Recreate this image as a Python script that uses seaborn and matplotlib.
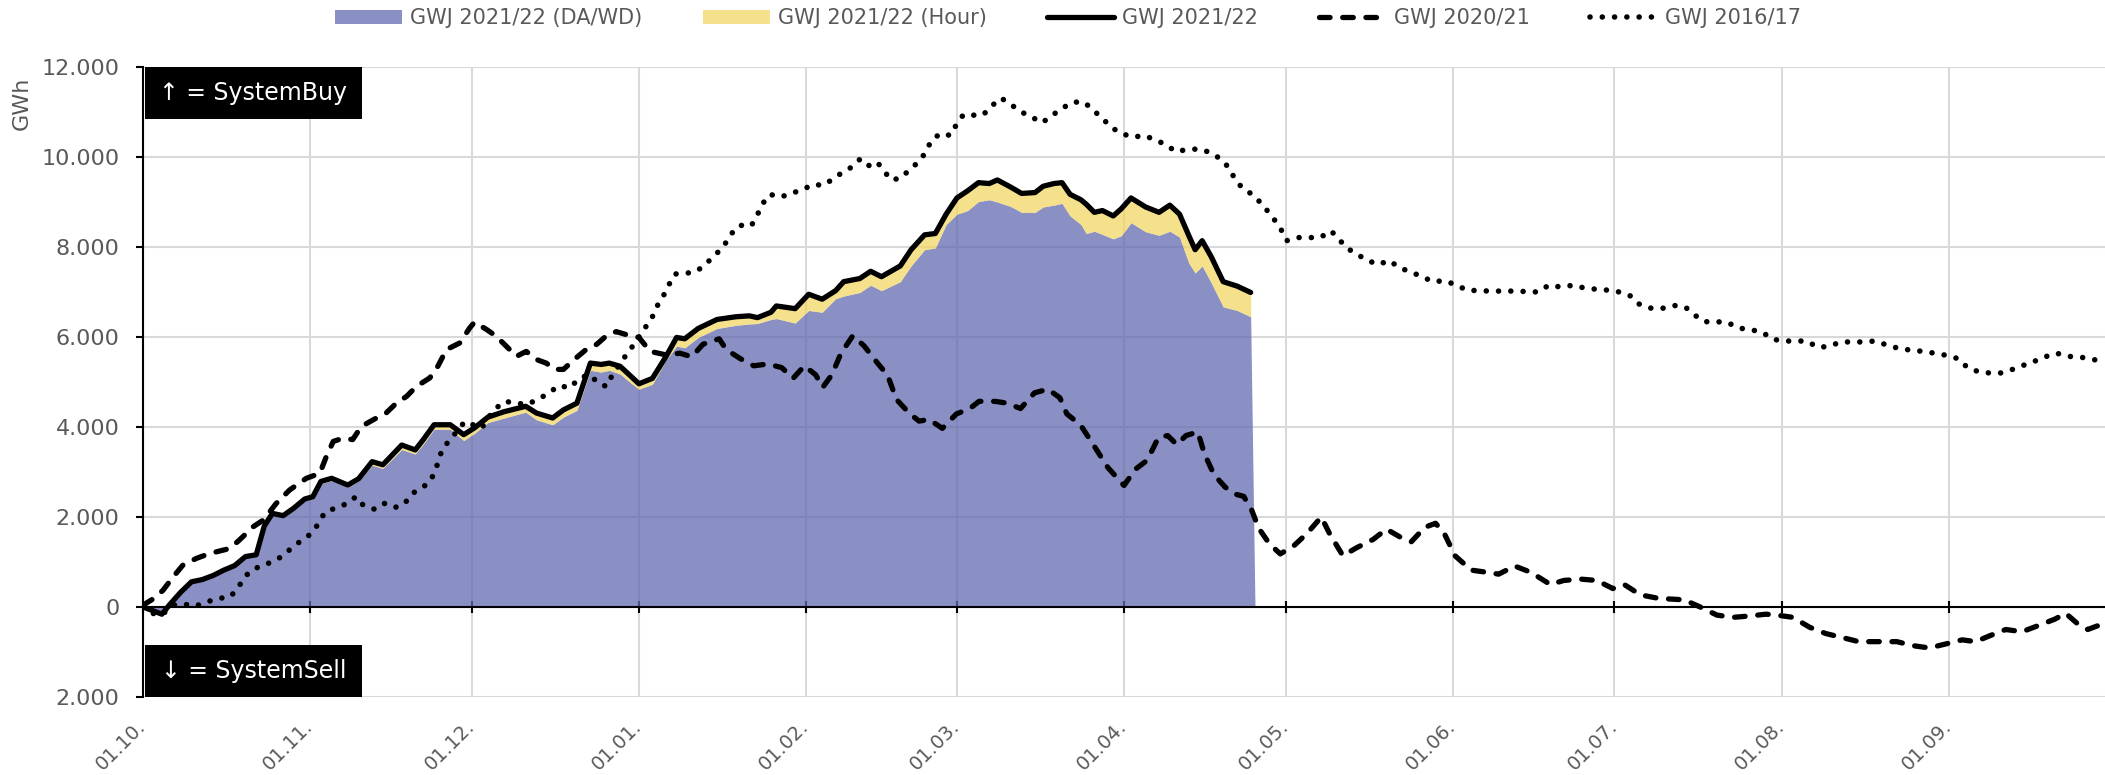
import matplotlib
matplotlib.use('Agg')
import matplotlib.pyplot as plt
import numpy as np
import pandas as pd
import seaborn as sns
from matplotlib.patches import Patch, Rectangle
from matplotlib.lines import Line2D
from matplotlib.ticker import FuncFormatter, MultipleLocator

# Gas year starts 01.10. - all series are plotted on the same day axis
start = pd.Timestamp('2021-10-01')

# GWJ 2021/22 (days since 01.10., total balance and DA/WD part, GWh)
days_2122 = [0, 2, 3.5, 5, 7, 9, 11, 13, 15, 17, 19, 21, 22.5, 24, 26, 28, 30, 31.5, 33, 35,
             38, 40, 42.5, 44.5, 48, 50.5, 52, 54, 57, 59.5, 61.5, 64, 67, 71, 73, 76, 78, 80.5,
             83, 85, 86.5, 88.5, 90.5, 92, 94.5, 97, 99, 100.5, 103, 106.5, 110, 112.5, 114,
             116.5, 117.5, 121, 123.5, 126, 128.5, 130, 133, 135, 137, 140.5, 142.5, 145, 147,
             149, 151, 153, 155, 157, 158.5, 161, 163, 165.5, 167, 169, 170.5, 172, 174, 175,
             176.5, 178, 180, 181.5, 183.3, 186, 188.5, 190.5, 192.3, 194, 195.2, 196.5, 198.2,
             200.4, 203, 205.5, 206.3]
total_2122 = [0, -90, -160, 60, 330, 560, 610, 700, 820, 920, 1120, 1160, 1800, 2080, 2030, 2200,
              2400, 2450, 2790, 2860, 2710, 2850, 3230, 3160, 3600, 3490, 3720, 4050, 4050, 3830,
              3980, 4220, 4340, 4460, 4310, 4200, 4380, 4530, 5420, 5390, 5420, 5350, 5130, 4960,
              5080, 5560, 5990, 5960, 6190, 6390, 6450, 6470, 6430, 6550, 6690, 6630, 6950, 6840,
              7030, 7230, 7300, 7460, 7340, 7580, 7940, 8270, 8300, 8730, 9090, 9250, 9430, 9410,
              9490, 9330, 9190, 9210, 9350, 9410, 9430, 9170, 9050, 8950, 8770, 8810, 8690, 8850,
              9090, 8890, 8770, 8930, 8730, 8260, 7940, 8140, 7780, 7230, 7130, 6990, np.nan]
da_2122 = [0, -80, -130, 50, 320, 550, 600, 680, 800, 900, 1100, 1140, 1780, 2050, 2000, 2160,
           2360, 2410, 2740, 2810, 2660, 2800, 3150, 3080, 3500, 3400, 3620, 3950, 3950, 3700,
           3860, 4100, 4200, 4330, 4160, 4050, 4220, 4370, 5260, 5220, 5260, 5180, 4980, 4840,
           4950, 5480, 5800, 5760, 5990, 6190, 6260, 6290, 6300, 6390, 6410, 6310, 6590, 6550,
           6850, 6910, 6990, 7150, 7030, 7230, 7580, 7940, 7980, 8500, 8730, 8810, 9010, 9050,
           9000, 8900, 8770, 8770, 8890, 8930, 8970, 8690, 8500, 8300, 8350, 8280, 8180, 8250,
           8540, 8340, 8260, 8350, 8220, 7650, 7420, 7580, 7200, 6670, 6590, 6450, 0]

# GWJ 2020/21
days_2021 = [0, 2, 3.7, 5.6, 7.4, 9.9, 12.4, 14.8, 16.1, 17.9, 20.4, 22.3, 24.7, 27.2, 30.3,
             32.8, 34, 35.3, 37.1, 38.9, 40.5, 42.7, 45.1, 47, 48.9, 50.7, 53.2, 54.7, 56.3,
             58.8, 60.6, 61.5, 63.7, 65.5, 67.1, 69.3, 71.1, 73, 74.8, 76.4, 78, 80, 82, 84.2,
             86, 87.8, 90.3, 92, 94.1, 97.1, 99.6, 101.8, 103.9, 106.9, 108.2, 110.8, 113.3,
             115.9, 118.5, 120.6, 122.7, 124.8, 126.1, 127.8, 129.5, 131.7, 133.8, 136.4, 138.1,
             139.8, 142.3, 144, 145.8, 148.3, 150.9, 153.4, 155.1, 158.1, 160.3, 162.8, 165.4,
             167.9, 170.1, 171.4, 173.9, 176.5, 179, 182, 184.1, 186.3, 188.4, 190.1, 191.8,
             193.5, 195.7, 196.9, 198.7, 200.8, 202.9, 204.2, 205.7, 207, 209, 211, 213.5, 216,
             218.6, 220.1, 222.6, 225.2, 228.2, 230.7, 233.3, 235.3, 237.8, 239.8, 241.4, 243.4,
             246.4, 249.4, 251.5, 254.5, 257.5, 261.1, 263.6, 266.7, 269.7, 272.7, 274.8, 277.8,
             280.8, 282.9, 285.9, 288.9, 292, 295, 298, 301.1, 303.1, 306.1, 309.2, 312.2, 315.3,
             318.3, 321.3, 325.4, 328.4, 331.4, 334.5, 337.5, 340, 342.6, 345.6, 348.6, 351.7,
             354.7, 356.7, 358.8, 360.8, 362.8, 364.5]
vals_2021 = [40, 190, 370, 670, 930, 1080, 1190, 1260, 1300, 1490, 1780, 1930, 2300, 2600, 2860,
             2970, 3340, 3680, 3750, 3720, 4010, 4160, 4310, 4530, 4680, 4900, 5090, 5350, 5720,
             5870, 6200, 6330, 6170, 6020, 5830, 5570, 5680, 5500, 5420, 5280, 5280, 5500, 5700,
             5840, 6030, 6120, 6030, 5990, 5680, 5600, 5640, 5560, 5840, 5960, 5720, 5520, 5360,
             5400, 5320, 5080, 5360, 5160, 4880, 5160, 5640, 6030, 5800, 5400, 5160, 4610, 4290,
             4130, 4170, 3970, 4290, 4410, 4570, 4570, 4530, 4410, 4760, 4840, 4650, 4290, 4050,
             3570, 3100, 2700, 3060, 3260, 3770, 3810, 3610, 3810, 3890, 3410, 2940, 2660, 2500,
             2460, 2150, 1750, 1400, 1180, 1360, 1640, 2000, 1640, 1140, 1320, 1500, 1730, 1550,
             1450, 1770, 1860, 1640, 1140, 820, 770, 730, 910, 770, 500, 590, 620, 590, 410, 500,
             270, 200, 180, 160, 0, -180, -230, -200, -160, -180, -230, -450, -590, -680, -770,
             -770, -770, -860, -910, -820, -730, -770, -640, -500, -550, -410, -270, -140, -360,
             -500, -410, -200]

# GWJ 2016/17
days_1617 = [0, 2, 3.5, 5.6, 7.4, 9.6, 11.8, 13.9, 16.1, 17.6, 18.6, 20.1, 22.3, 24.4, 26.3,
             27.8, 29.7, 31.2, 32.6, 33.7, 35.9, 37.7, 39.5, 40.8, 43, 44.8, 46.7, 48.5, 49.8,
             51.3, 53.1, 54.1, 54.9, 55.5, 57, 59.7, 61.2, 62.8, 65, 67.1, 69.3, 71.1, 73.3,
             75.3, 77.2, 79.2, 81, 82.9, 84.5, 86, 87, 89.4, 91.1, 93.3, 94.6, 95.4, 96.7, 97.7,
             98.7, 101, 102.7, 104.4, 106.1, 107.5, 109.9, 111.6, 112.9, 114, 115, 116.3, 118.3,
             120.2, 122.3, 124.3, 126.3, 128.3, 129.7, 131.4, 133.1, 134.7, 136.2, 137.2, 138.8,
             140.6, 142.3, 143.9, 145.3, 146.2, 147.9, 149.8, 150.9, 152.2, 154.1, 155.8, 157.7,
             159.2, 161.1, 162.8, 165, 166.8, 168.6, 170.5, 172.5, 174.6, 176.3, 178, 179.6,
             181.6, 183.7, 185.7, 187.6, 189.7, 191.6, 193.5, 195.9, 198, 199.9, 201.4, 202.5,
             203.8, 205.5, 206.9, 208.5, 210, 211.5, 212.2, 214, 216, 218.4, 220.4, 221.6, 223.3,
             225.2, 227.2, 229.2, 231.2, 233.1, 235.3, 237.3, 239.3, 241.4, 243.6, 245.6, 250,
             254.5, 258.8, 260.8, 263.1, 265.3, 267.4, 269.7, 271.9, 273.9, 276, 277.6, 279.8,
             282, 284.1, 286.2, 287.7, 289.7, 292, 294, 296, 298.3, 300.4, 302.3, 304.6, 308.7,
             310.7, 312.7, 315, 319.3, 321.3, 323.6, 325.9, 327.9, 330.2, 332.4, 334.7, 336.7,
             338.5, 340.5, 342.6, 344.6, 346.6, 348.6, 350.7, 352.9, 355, 357.2, 359.6, 361.8, 364]
vals_1617 = [0, -150, -170, 40, 70, 15, 110, 190, 220, 410, 630, 820, 930, 1020, 1170, 1340, 1500,
             1630, 1860, 2100, 2210, 2290, 2450, 2270, 2170, 2300, 2210, 2290, 2510, 2620, 2760,
             2990, 3270, 3510, 3720, 4120, 4050, 3970, 4370, 4570, 4530, 4500, 4610, 4760, 4920,
             4870, 5090, 5160, 4970, 4900, 5140, 5560, 5840, 6230, 6470, 6690, 6950, 7190, 7400,
             7420, 7460, 7620, 7820, 7980, 8420, 8510, 8480, 8720, 8970, 9170, 9110, 9190, 9270,
             9390, 9370, 9540, 9650, 9770, 9960, 9810, 9890, 9730, 9490, 9530, 9730, 9890, 10120,
             10360, 10520, 10480, 10720, 10940, 10930, 10930, 11160, 11310, 11160, 11010, 10880,
             10760, 10920, 11080, 11220, 11220, 11040, 10860, 10660, 10520, 10440, 10480, 10390,
             10280, 10120, 10160, 10180, 10100, 9960, 9770, 9530, 9330, 9190, 9040, 8820, 8590,
             8320, 8140, 8210, 8210, 8210, 8360, 8210, 7980, 7840, 7700, 7610, 7700, 7540, 7440,
             7340, 7230, 7250, 7160, 7040, 7020, 7020, 7000, 7150, 7110, 7150, 7090, 7060, 7040,
             7000, 6910, 6730, 6640, 6640, 6700, 6660, 6500, 6340, 6340, 6320, 6200, 6160, 6110,
             5950, 5910, 5910, 5770, 5790, 5890, 5890, 5910, 5820, 5740, 5710, 5680, 5640, 5590,
             5520, 5320, 5230, 5200, 5200, 5270, 5360, 5450, 5560, 5640, 5570, 5550, 5500, 5450]

labels = ['GWJ 2021/22 (DA/WD)', 'GWJ 2021/22 (Hour)', 'GWJ 2021/22', 'GWJ 2020/21', 'GWJ 2016/17']


def to_dates(days):
    return start + pd.to_timedelta(days, unit='D')


df22 = pd.DataFrame({'date': to_dates(days_2122), 'total': total_2122, 'da': da_2122})
df21 = pd.DataFrame({'date': to_dates(days_2021), 'value': vals_2021})
df17 = pd.DataFrame({'date': to_dates(days_1617), 'value': vals_1617})

sns.set_theme(style='whitegrid')
plt.rcParams['font.family'] = ['DejaVu Sans']
grey = '#595959'
blue = '#636bb0'
yellow = '#f2d664'
dash = (0, (2.0, 2.4))
dots = (0, (0.01, 2.2))

fig, ax = plt.subplots(figsize=(21.05, 7.75), dpi=100)
fig.subplots_adjust(left=143 / 2105, right=1.0, top=1 - 67 / 775, bottom=1 - 697 / 775)

# stacked areas: DA/WD + hourly part
ax.fill_between(df22['date'], 0, df22['da'], color=blue, alpha=0.75, lw=0, zorder=2)
hour = df22.dropna()
ax.fill_between(hour['date'], hour['da'], hour['total'], color=yellow, alpha=0.75, lw=0, zorder=2)

sns.lineplot(x=hour['date'], y=hour['total'], ax=ax, color='black', lw=3.8, zorder=4)
sns.lineplot(x=df21['date'], y=df21['value'], ax=ax, color='black', lw=3.8,
             linestyle=dash, dash_capstyle='round', zorder=4)
sns.lineplot(x=df17['date'], y=df17['value'], ax=ax, color='black', lw=4,
             linestyle=dots, dash_capstyle='round', zorder=4)

# axes
month_starts = pd.date_range(start, periods=12, freq='MS')
ax.set_xlim(start, start + pd.Timedelta(days=364))
ax.set_ylim(-2000, 12000)
ax.yaxis.set_major_locator(MultipleLocator(2000))
ax.yaxis.set_major_formatter(FuncFormatter(lambda v, p: f"{abs(int(v)):,}".replace(',', '.')))
ax.set_xticks(month_starts)
ax.set_xticklabels(month_starts.strftime('%d.%m.'))

ax.grid(True, color='#d9d9d9', lw=1.5)
ax.set_axisbelow(True)
for s in ['top', 'right']:
    ax.spines[s].set_visible(False)
ax.spines['left'].set_color('black')
ax.spines['left'].set_linewidth(1.5)
ax.spines['bottom'].set_position(('data', 0))
ax.spines['bottom'].set_color('black')
ax.spines['bottom'].set_linewidth(1.5)
ax.spines['bottom'].set_zorder(5)

ax.tick_params(axis='y', left=True, length=5, width=1.5, color='black', pad=12,
               labelsize=16, labelcolor=grey)
ax.tick_params(axis='x', bottom=True, direction='inout', length=9, width=1.5, color='black',
               pad=79, labelsize=14, labelcolor=grey, labelrotation=45)
plt.setp(ax.get_xticklabels(), ha='right', va='center', rotation_mode='anchor')
plt.setp(ax.get_yticklabels(), fontsize=16)

ax.set_xlabel('')
ax.set_ylabel('GWh', fontsize=16, color=grey)
ax.yaxis.set_label_coords(-0.0566, 0.943)

# black boxes with the direction hints
box_w = 217 / 1962
box_h = 52 / 630
for y0, txt in [(1 - box_h, '↑ = SystemBuy'), (0, '↓ = SystemSell')]:
    ax.add_patch(Rectangle((0.001, y0), box_w, box_h, transform=ax.transAxes, fc='black',
                           ec='none', zorder=6, clip_on=False))
    ax.text(0.001 + box_w / 2, y0 + box_h / 2, txt, transform=ax.transAxes, color='white',
            fontsize=17, ha='center', va='center', zorder=7)

handles = [Patch(fc='#8a90c4', ec='none'), Patch(fc='#f5e08b', ec='none'),
           Line2D([], [], color='black', lw=3.8),
           Line2D([], [], color='black', lw=3.8, ls=dash, dash_capstyle='round'),
           Line2D([], [], color='black', lw=4, ls=dots, dash_capstyle='round')]
fig.legend(handles, labels, loc='upper center', bbox_to_anchor=(0.5074, 1.0), ncol=5,
           frameon=False, fontsize=15, handlelength=3.2, handletextpad=0.4, columnspacing=2.9,
           borderaxespad=0, labelcolor=grey)

fig.savefig('out.png', dpi=100)
